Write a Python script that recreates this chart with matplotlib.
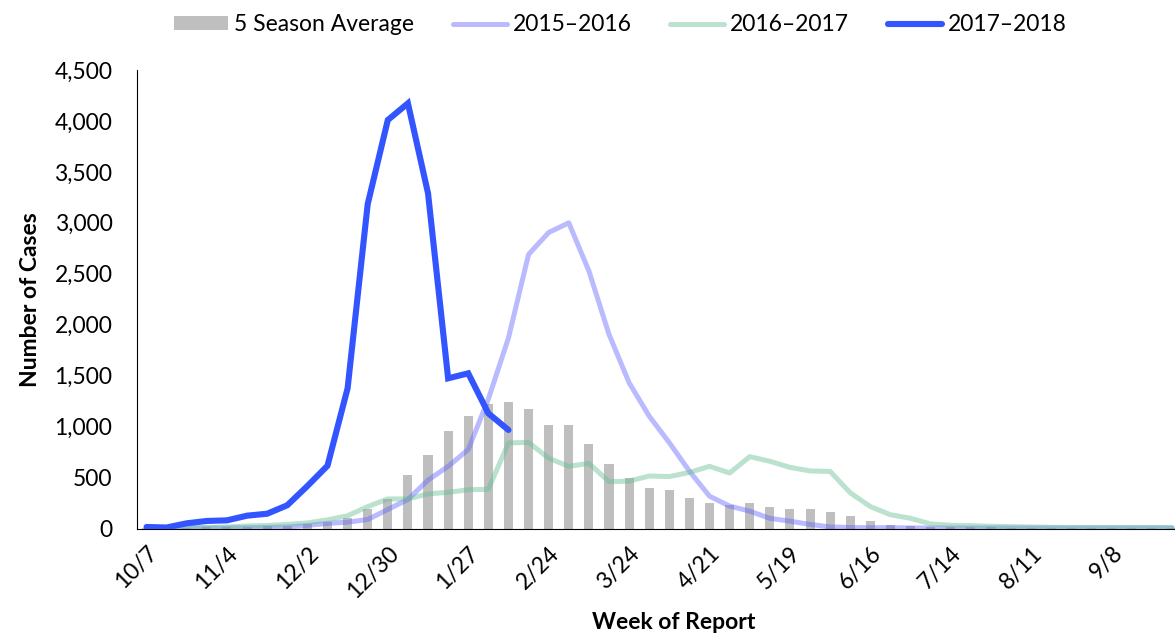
import matplotlib.pyplot as plt
import numpy as np

plt.rcParams['font.family'] = ['Lato', 'DejaVu Sans']

tick_labels = ['10/7', '11/4', '12/2', '12/30', '1/27', '2/24', '3/24',
               '4/21', '5/19', '6/16', '7/14', '8/11', '9/8']

avg5 = [5, 5, 8, 10, 12, 15, 20, 25, 45, 65,
        105, 190, 290, 530, 720, 956, 1103, 1218, 1244, 1175,
        1012, 1015, 832, 629, 498, 396, 373, 295, 252, 226,
        252, 213, 193, 187, 160, 121, 72, 36, 29, 15,
        12, 10, 10, 8, 8, 6, 6, 5, 5, 5, 5, 5]

s1516 = [5, 5, 5, 5, 5, 8, 10, 15, 30, 50,
         62, 88, 187, 285, 475, 610, 775, 1270, 1870, 2690,
         2905, 3000, 2528, 1906, 1431, 1103, 842, 563, 317, 220,
         170, 100, 72, 40, 15, 10, 8, 8, 5, 5,
         5, 5, 5, 5, 5, 5, 5, 5, 5, 5, 5, 5]

s1617 = [5, 5, 8, 10, 15, 25, 30, 40, 55, 85,
         125, 215, 290, 290, 340, 355, 380, 385, 840, 845,
         690, 610, 640, 460, 465, 515, 510, 550, 610, 545,
         705, 660, 600, 565, 560, 350, 215, 135, 100, 45,
         32, 28, 22, 18, 15, 12, 10, 10, 10, 10, 10, 10]

s1718 = [15, 10, 51, 74, 80, 126, 145, 228, 417, 616,
         1376, 3184, 4009, 4173, 3290, 1474, 1523, 1130, 967]

fig = plt.figure(figsize=(11.75, 6.34), dpi=100)
ax = fig.add_axes([0.117, 0.1664, 0.883, 0.7232])

weeks = np.arange(len(avg5))
b = ax.bar(weeks, avg5, width=0.45, color='#bfbfbf', label='5 Season Average', zorder=1)
l1, = ax.plot(weeks, s1516, color=(0.4, 0.4, 1.0, 0.45), lw=3.6, label='2015\u20132016', zorder=2,
              solid_capstyle='round')
l2, = ax.plot(weeks, s1617, color=(0.4, 0.75, 0.58, 0.45), lw=3.6, label='2016\u20132017', zorder=3,
              solid_capstyle='round')
l3, = ax.plot(np.arange(len(s1718)), s1718, color='#3355ff', lw=4.4, label='2017\u20132018', zorder=4,
              solid_capstyle='round', solid_joinstyle='miter')

ax.set_xlim(-0.45, 51.15)
ax.set_ylim(0, 4500)
ax.set_yticks(np.arange(0, 4501, 500))
ax.set_yticklabels([f'{v:,}' for v in range(0, 4501, 500)], fontsize=16.5)
ax.set_xticks(np.arange(0, 52, 4))
ax.set_xticklabels(tick_labels, rotation=45, ha='right', va='top',
                   rotation_mode='anchor', fontsize=16.5)
ax.tick_params(length=0)
ax.tick_params(axis='y', pad=18)
ax.tick_params(axis='x', pad=10)
for s in ['top', 'right']:
    ax.spines[s].set_visible(False)

ax.set_ylabel('Number of Cases', fontsize=16.5, fontweight='bold', labelpad=10)
fig.text(0.573, 0.018, 'Week of Report', fontsize=16.5, fontweight='bold', ha='center', va='center')

fig.legend([b, l1, l2, l3], ['5 Season Average', '2015\u20132016', '2016\u20132017', '2017\u20132018'],
           loc='upper center', bbox_to_anchor=(0.528, 1.01), ncol=4, frameon=False,
           fontsize=16.5, handlelength=2.35, handleheight=0.6, columnspacing=1.7, handletextpad=0.25)

fig.savefig('out.png', dpi=100)
